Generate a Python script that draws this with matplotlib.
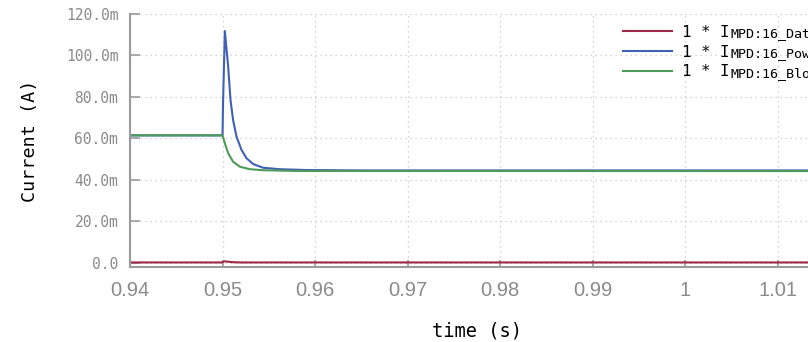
import matplotlib
matplotlib.use("Agg")
import matplotlib.pyplot as plt
from matplotlib.ticker import FuncFormatter, FixedLocator

# ---- data ----
t_data = [0.94, 0.9499, 0.9502, 0.9506, 0.9512, 0.952, 1.015]
i_data = [0.25e-3, 0.25e-3, 0.8e-3, 0.6e-3, 0.35e-3, 0.25e-3, 0.25e-3]

t_power = [0.94, 0.94998, 0.95, 0.95005, 0.95025, 0.95061, 0.95086, 0.95114,
           0.95151, 0.95205, 0.95259, 0.95330, 0.95438, 0.95618, 0.9590, 0.965, 1.015]
i_power = [61.5e-3, 61.5e-3, 61.5e-3, 76.0e-3, 111.8e-3, 94.6e-3, 78.6e-3, 68.9e-3,
           60.9e-3, 54.5e-3, 50.5e-3, 47.7e-3, 45.9e-3, 45.2e-3, 44.8e-3, 44.6e-3, 44.6e-3]

t_bloat = [0.94, 0.95, 0.95025, 0.95061, 0.95114, 0.95187, 0.95294, 0.95438,
           0.9580, 1.015]
i_bloat = [61.5e-3, 61.5e-3, 57.7e-3, 52.9e-3, 48.8e-3, 46.4e-3, 45.2e-3, 44.7e-3,
           44.35e-3, 44.3e-3]

series_names = ["MPD:16_Data", "MPD:16_Power", "MPD:16_Bloat"]
series_colors = ["#a02846", "#4060b8", "#4e9a5a"]

x_ticks = [0.94, 0.95, 0.96, 0.97, 0.98, 0.99, 1.0, 1.01]
x_tick_labels = ["0.94", "0.95", "0.96", "0.97", "0.98", "0.99", "1", "1.01"]
y_ticks = [0.0, 0.02, 0.04, 0.06, 0.08, 0.10, 0.12]

W, H = 808, 342

# ---- figure ----
fig = plt.figure(figsize=(W / 100, H / 100), dpi=100)
ax = fig.add_axes([130 / W, (H - 266.7) / H, (824 - 130) / W, (266.7 - 14) / H])

lines = []
for t, v, c in zip([t_data, t_power, t_bloat], [i_data, i_power, i_bloat], series_colors):
    ln, = ax.plot(t, v, color=c, lw=1.5, solid_joinstyle="round")
    lines.append(ln)

ax.set_xlim(0.94, 1.015)
ax.set_ylim(-1.8e-3, 0.12)

ax.xaxis.set_major_locator(FixedLocator(x_ticks))
ax.set_xticklabels(x_tick_labels)
ax.yaxis.set_major_locator(FixedLocator(y_ticks))
ax.yaxis.set_major_formatter(FuncFormatter(
    lambda v, p: "0.0" if abs(v) < 1e-12 else f"{v * 1000:.1f}m"))

ax.grid(True, linestyle=(0, (1, 3)), color="#c8c8c8", lw=0.9)
ax.set_axisbelow(True)

for s in ["top", "right"]:
    ax.spines[s].set_visible(False)
for s in ["left", "bottom"]:
    ax.spines[s].set_color("#9a9a9a")
    ax.spines[s].set_linewidth(1.5)

ax.tick_params(axis="y", direction="in", length=7, width=1.2, color="#9a9a9a",
               pad=8.5, labelsize=10.5, labelcolor="#8a8a8a")
ax.tick_params(axis="x", direction="in", length=5, width=1.2, color="#9a9a9a",
               pad=10.5, labelsize=14.5, labelcolor="#8a8a8a")
for lab in ax.get_yticklabels():
    lab.set_family("DejaVu Sans Mono")
for lab in ax.get_xticklabels():
    lab.set_family("Liberation Sans")

ax.set_ylabel("Current (A)", family="DejaVu Sans Mono", fontsize=13.2, color="black",
              labelpad=19)
ax.set_xlabel("time (s)", family="DejaVu Sans Mono", fontsize=13.4, color="black",
              labelpad=15)

leg = ax.legend(lines, ["1 * I"] * 3, loc="upper left",
                bbox_to_anchor=((623 - 130) / 694, 1 - (25 - 14) / 252.7),
                frameon=False, borderpad=0, borderaxespad=0,
                handlelength=3.1, handletextpad=0.63, labelspacing=0.30,
                prop={"family": "DejaVu Sans Mono", "size": 11.4})

# subscripts placed right after each legend label
fig.canvas.draw()
for txt, name in zip(leg.get_texts(), series_names):
    bb = txt.get_window_extent()
    fig.text((bb.x1 + 0.5) / W, (bb.y0 - 0.5) / H, name, ha="left", va="bottom",
             family="DejaVu Sans Mono", fontsize=9.6, color="black")

fig.savefig("out.png", dpi=100)
